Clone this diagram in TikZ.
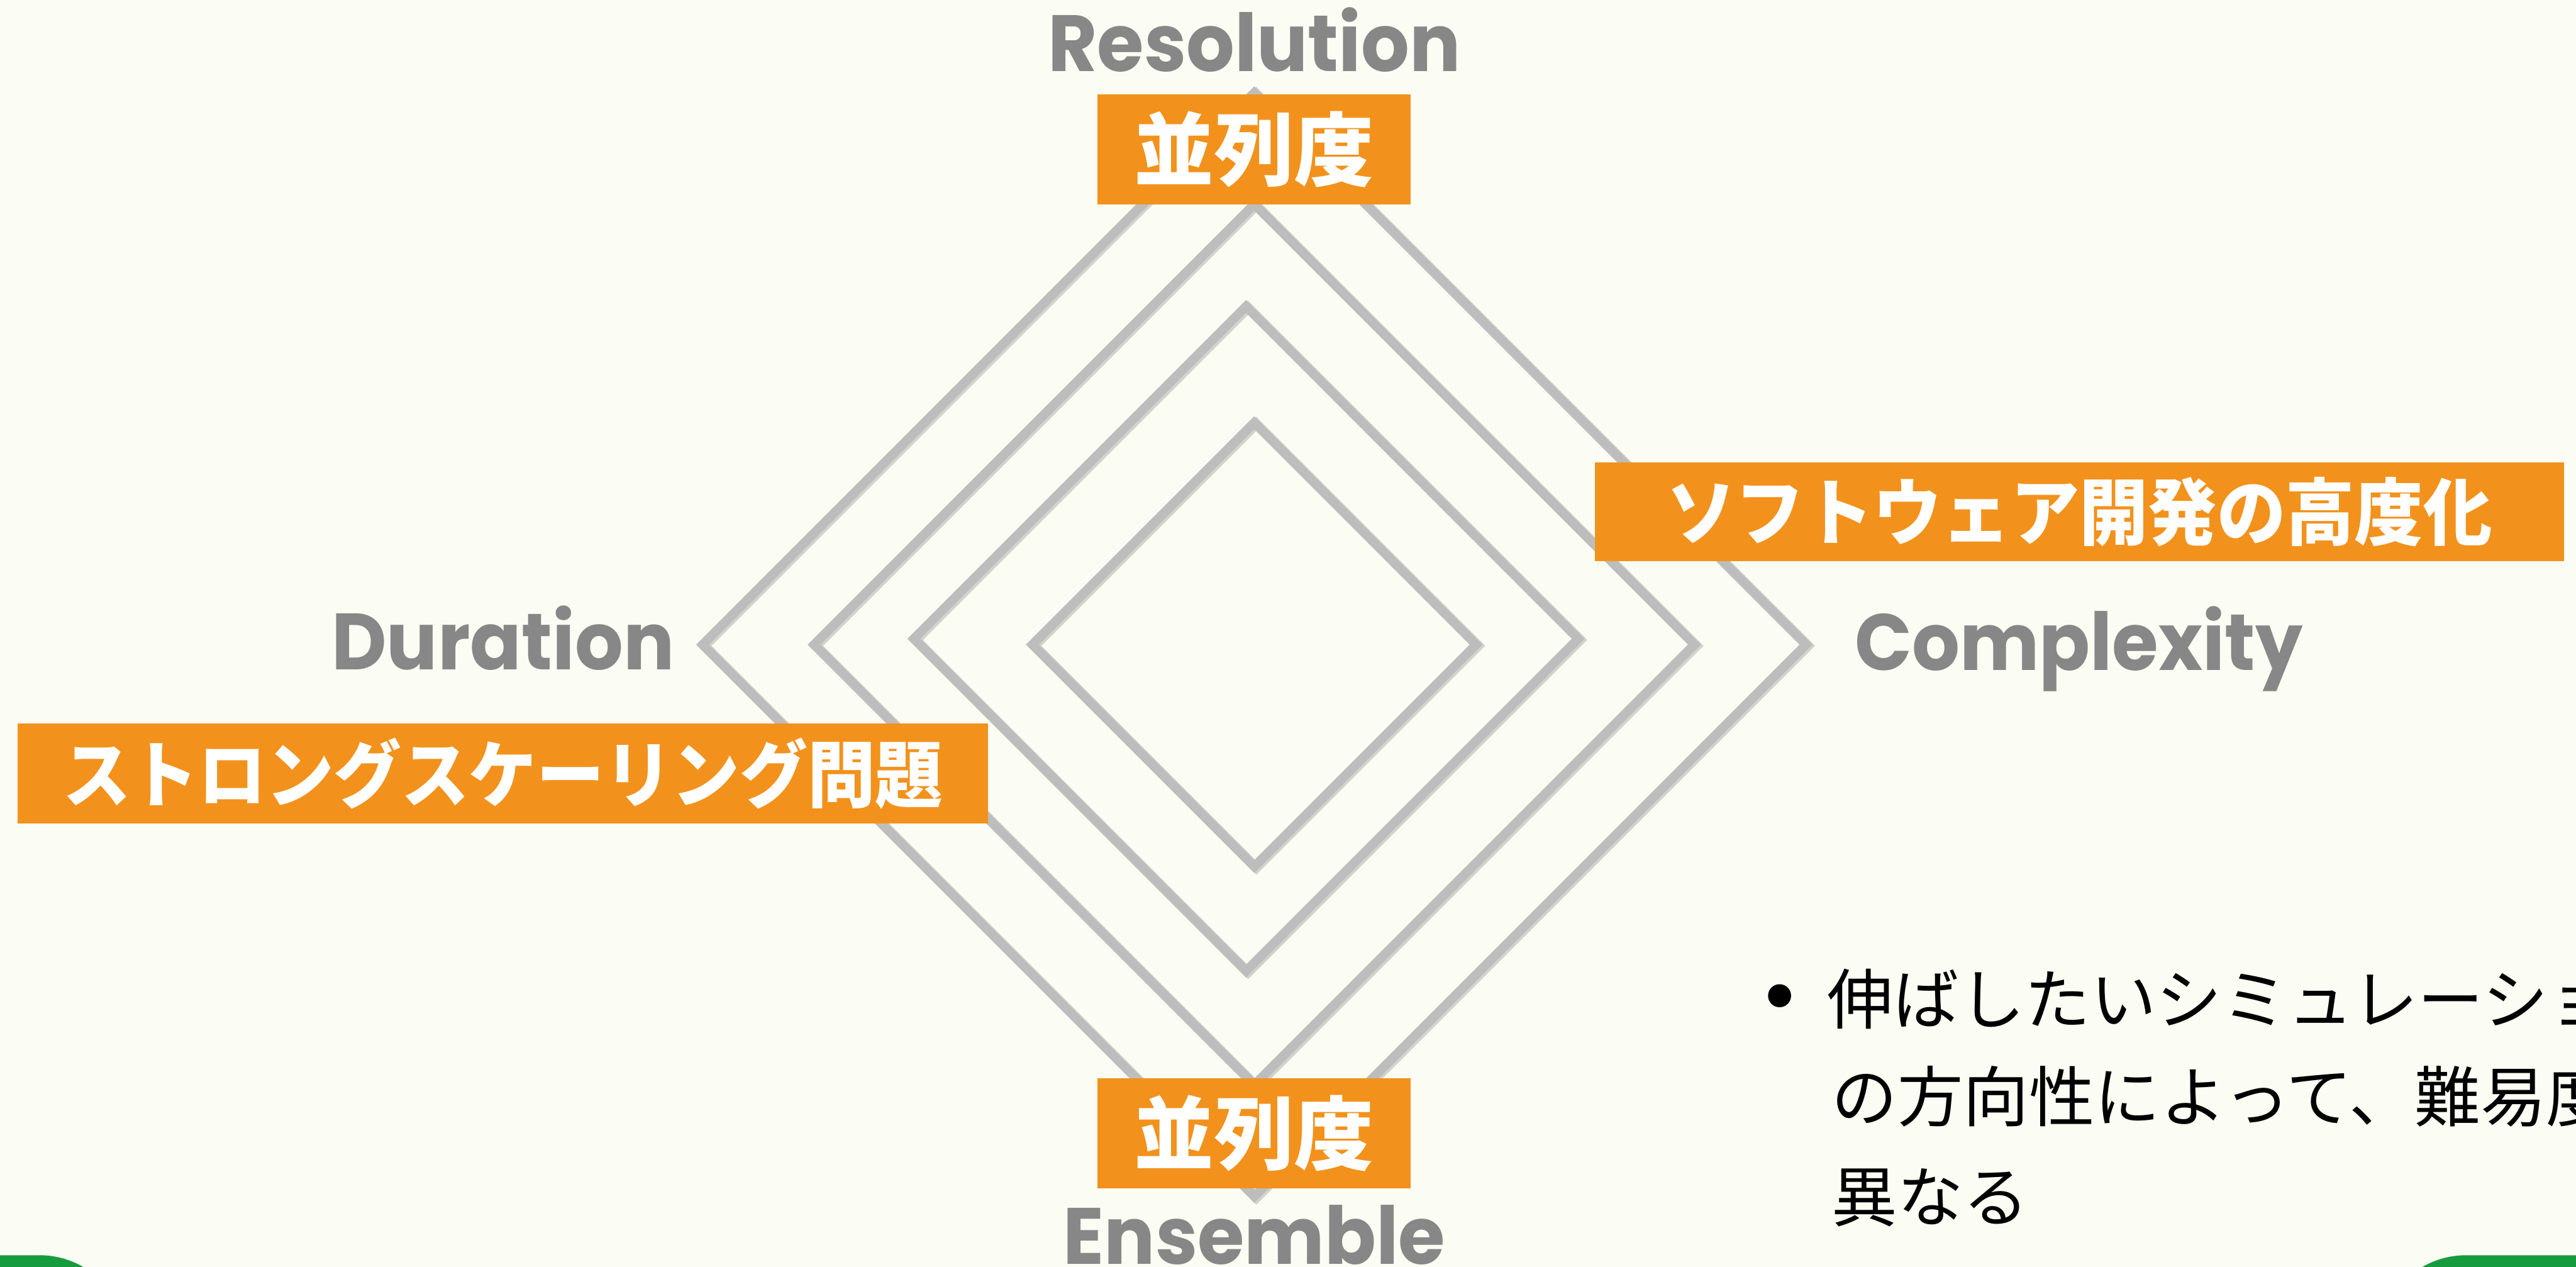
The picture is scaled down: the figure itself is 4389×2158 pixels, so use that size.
\documentclass[tikz,border=0pt]{standalone}
\usepackage{fontspec}
\newfontfamily\popfont{Poppins}
\newfontfamily\cjkfont{Noto Sans CJK JP}
\definecolor{bgc}{RGB}{251,252,243}
\definecolor{orng}{RGB}{242,146,28}
\definecolor{dgray}{RGB}{189,189,189}
\definecolor{tgray}{RGB}{135,135,135}
\definecolor{grn}{RGB}{23,155,63}
\begin{document}
\begin{tikzpicture}[x=0.25pt,y=-0.25pt,
  dline/.style={draw=dgray, line width=3.9pt, line join=miter},
  dshadow/.style={draw=black, opacity=0.16, line width=4.2pt, xshift=0.9pt, yshift=-0.5pt},
  obox/.style={fill=orng, inner sep=0pt, text=white, font=\cjkfont\bfseries},
  glabel/.style={inner sep=0pt, text=tgray, font=\popfont\bfseries\fontsize{34}{40}\selectfont},
  btext/.style={inner sep=0pt, anchor=base west, text=black, font=\cjkfont\fontsize{28}{34}\selectfont}]
\path[use as bounding box] (0,0) rectangle (4389,2158);
\fill[bgc] (0,0) rectangle (4389,2158);
\begin{scope}
\clip (0,0) rectangle (4389,2158);
% green corner shapes
\fill[grn, rounded corners=37.5pt] (-400,2138) rectangle (217,2600);
\fill[grn, rounded corners=37.5pt] (4052,2138) rectangle (4800,2600);
% diamonds (shadows)
\foreach \cx/\cy/\r in {2137/1098/940, 2137/1098/750, 2123/1088/566, 2137/1098/378}{
  \draw[dshadow] (\cx-\r,\cy) -- (\cx,\cy-\r) -- (\cx+\r,\cy) -- (\cx,\cy+\r) -- cycle;
}
% diamonds
\foreach \cx/\cy/\r in {2137/1098/940, 2137/1098/750, 2123/1088/566, 2137/1098/378}{
  \draw[dline] (\cx-\r,\cy) -- (\cx,\cy-\r) -- (\cx+\r,\cy) -- (\cx,\cy+\r) -- cycle;
}
% orange labels
\node[obox, minimum width=133.25pt, minimum height=46.75pt, font=\cjkfont\bfseries\fontsize{34}{40}\selectfont] (ptop) at (2136.5,254.5) {並列度};
\node[obox, minimum width=133.25pt, minimum height=46.75pt, font=\cjkfont\bfseries\fontsize{34}{40}\selectfont] (pbot) at (2136.5,1930.5) {並列度};
\node[obox, minimum width=413pt, minimum height=42pt, font=\cjkfont\bfseries\fontsize{31}{36}\selectfont] (soft) at (3543,872) {\scalebox{0.945}[1]{ソフトウェア開発の高度化}};
\node[obox, minimum width=413.25pt, minimum height=42.75pt, font=\cjkfont\bfseries\fontsize{31}{36}\selectfont] (strong) at (857,1317.5) {\scalebox{0.93}[1]{ストロングスケーリング問題}};
% gray axis labels
\node[glabel, anchor=base] (res) at (2137,122) {\scalebox{0.95}[1]{Resolution}};
\node[glabel, anchor=base] (cpx) at (3542,1142) {\scalebox{0.94}[1]{Complexity}};
\node[glabel, anchor=base] (dur) at (857,1141) {\scalebox{0.95}[1]{Duration}};
\node[glabel, anchor=base] (ens) at (2137,2153) {\scalebox{0.95}[1]{Ensemble}};
% bullet text
\fill[black] (3032,1696) circle[radius=4.9pt];
\node[btext] (l1) at (3113,1744) {伸ばしたいシミュレーショ};
\node[btext] (l2) at (3120,1910) {の方向性によって、難易度};
\node[btext] (l3) at (3120,2080) {異なる};
\end{scope}
\end{tikzpicture}
\end{document}
